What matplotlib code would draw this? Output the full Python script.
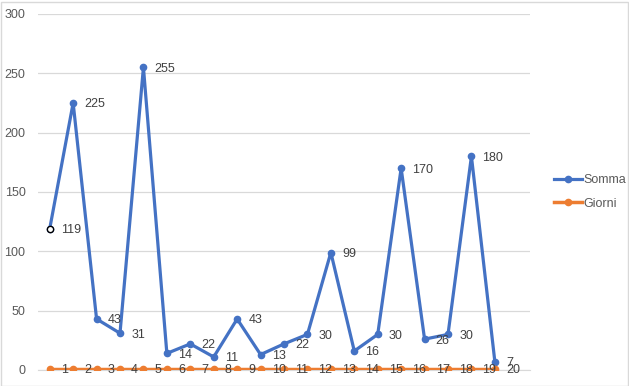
import numpy as np
import matplotlib.pyplot as plt
from matplotlib.patches import Rectangle

plt.rcParams['font.family'] = ['Liberation Sans', 'DejaVu Sans']

giorni_labels = [str(i) for i in range(1, 21)]
somma = [119, 225, 43, 31, 255, 14, 22, 11, 43, 13, 22, 30, 99, 16, 30, 170, 26, 30, 180, 7]
giorni = [1] * 20
yticks = [0, 50, 100, 150, 200, 250, 300]

blue = '#4472C4'
orange = '#ED7D31'
grey_txt = '#595959'

fig = plt.figure(figsize=(6.29, 3.86), dpi=100)
ax = fig.add_axes([38/629, 1 - 370/386, (530 - 38)/629, (370 - 14)/386])

x = np.arange(1, len(somma) + 1)

ax.plot(x, somma, color=blue, lw=2.3, marker='o', ms=4.5, label='Somma', zorder=3)
# primo punto vuoto
ax.plot(x[0], somma[0], marker='o', ms=4.5, mfc='white', mec='black', mew=1, zorder=4)
ax.plot(x, giorni, color=orange, lw=2.5, marker='o', ms=4.5, label='Giorni', zorder=3)

for xi, v in zip(x, somma):
    ax.annotate(str(v), (xi, v), xytext=(8, -1), textcoords='offset points',
                ha='left', va='center', fontsize=9, color='#404040', zorder=5)
for xi, v, lab in zip(x, giorni, giorni_labels):
    ax.annotate(lab, (xi, v), xytext=(8, -1), textcoords='offset points',
                ha='left', va='center', fontsize=9, color='#404040', zorder=5)

ax.set_xlim(0.5, 21.5)
ax.set_ylim(0, 300)
ax.set_yticks(yticks)
ax.set_xticks([])
ax.grid(axis='y', color='#d9d9d9', lw=0.9)
ax.set_axisbelow(True)
for s in ['top', 'right', 'left']:
    ax.spines[s].set_visible(False)
ax.spines['bottom'].set_color('#d9d9d9')
ax.tick_params(axis='y', length=0, pad=9, labelsize=9, labelcolor=grey_txt)

leg = fig.legend(loc='center left', bbox_to_anchor=(543/629, 1 - 192/386), frameon=False,
                 fontsize=9, handlelength=2.2, handletextpad=0.1, labelspacing=0.9)
for t in leg.get_texts():
    t.set_color(grey_txt)

fig.patches.append(Rectangle((0.5/629, 0.5/386), 627/629, 384/386, transform=fig.transFigure,
                             fill=False, edgecolor='#d9d9d9', lw=1))

fig.savefig('out.png', dpi=100)
